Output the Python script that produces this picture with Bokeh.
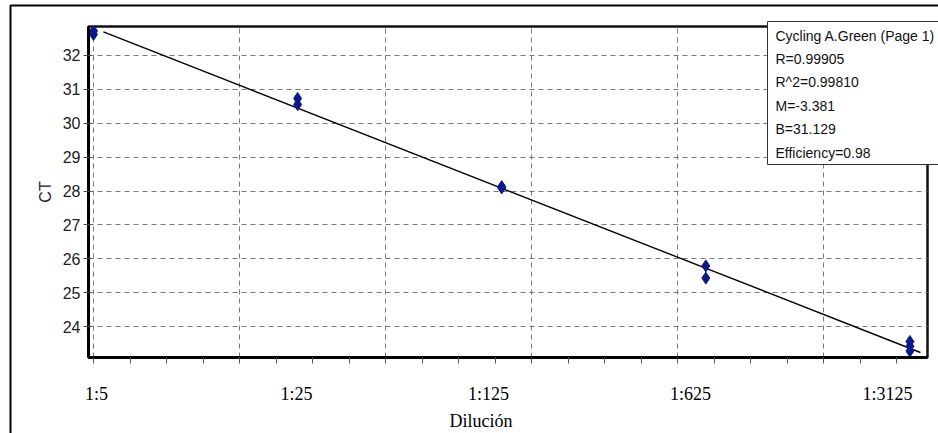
from bokeh.plotting import figure
from bokeh.models import FixedTicker, Range1d, ColumnDataSource
from bokeh.core.properties import value
from bokeh.embed import file_html
from bokeh.resources import INLINE

# ---------------- data ----------------
dilution_labels = ["1:5", "1:25", "1:125", "1:625", "1:3125"]
# position of each dilution on the log10 axis (5-fold steps)
dilution_x = [0.0, 0.699, 1.398, 2.097, 2.796]
# CT replicates
ct_1_5 = [32.72, 32.62]
ct_1_25 = [30.73, 30.55]
ct_1_125 = [28.13, 28.09]
ct_1_625 = [25.79, 25.43]
ct_1_3125 = [23.56, 23.42, 23.28]
ct_groups = [ct_1_5, ct_1_25, ct_1_125, ct_1_625, ct_1_3125]

fit_slope = -3.381          # M
fit_ct_at_first = 32.81     # standard-curve CT at the 1:5 position
fit_x_span = [0.034, 2.832]

legend_lines = ["Cycling A.Green (Page 1)", "R=0.99905", "R^2=0.99810",
                "M=-3.381", "B=31.129", "Efficiency=0.98"]

y_ticks = [24, 25, 26, 27, 28, 29, 30, 31, 32]
x_grid = [0.0, 0.5, 1.0, 1.5, 2.0, 2.5]

# ---------------- layout helpers ----------------
W, H = 938, 433
FL, FR, FT, FB = 88, 927, 26, 358      # frame edges in px
X0PX, XSCALE = 93, 292.0               # px of x=0, px per axis unit
Y24PX, YSCALE = 327, 34.0              # px of CT=24, px per CT unit


def xd(px):
    return (px - X0PX) / XSCALE


def yd(py):
    return 24 + (Y24PX - py) / YSCALE


p = figure(width=W, height=H, output_backend="svg", toolbar_location=None,
           x_range=Range1d(xd(FL), xd(FR)), y_range=Range1d(yd(FB), yd(FT)),
           min_border_left=FL, min_border_right=W - FR,
           min_border_top=FT, min_border_bottom=H - FB)
p.background_fill_color = "white"
p.border_fill_color = "white"
p.outline_line_color = "#111111"
p.outline_line_width = 2.5

# points
xs, ys = [], []
for xv, grp in zip(dilution_x, ct_groups):
    for c in grp:
        xs.append(xv)
        ys.append(c)
src = ColumnDataSource(dict(x=xs, y=ys))

# fit line
fit_y = [fit_ct_at_first + fit_slope * xv for xv in fit_x_span]
p.line(fit_x_span, fit_y, line_color="black", line_width=1.4)
p.scatter("x", "y", source=src, marker="diamond", size=12,
          fill_color="#0a1a8a", line_color="#0a1a8a")

# x axis: labels sit under the dilution points, tick marks every 1/8 unit
label_x = [round(xd(v), 4) for v in (96, 296, 488, 690, 887)]
xa = p.xaxis[0]
xa.ticker = FixedTicker(ticks=label_x, minor_ticks=[i * 0.125 for i in range(0, 23)])
xa.major_label_overrides = {lx: t for lx, t in zip(label_x, dilution_labels)}
xa.major_label_text_font = "Liberation Serif"
xa.major_label_text_font_size = "18px"
xa.major_label_text_color = "black"
xa.major_label_standoff = 20
xa.major_tick_out = 0
xa.major_tick_in = 0
xa.major_tick_line_color = None
xa.minor_tick_out = 6
xa.minor_tick_in = 0
xa.minor_tick_line_color = "#555555"
xa.axis_line_width = 3
xa.axis_line_color = "black"
# trailing no-break spaces shift the centred title left, as in the picture
xa.axis_label = "Dilución" + "\u00a0" * 12
xa.axis_label_text_font = "Liberation Serif"
xa.axis_label_text_font_style = "normal"
xa.axis_label_text_font_size = "18px"
xa.axis_label_text_color = "black"
xa.axis_label_standoff = 4

ya = p.yaxis[0]
ya.ticker = FixedTicker(ticks=y_ticks)
ya.axis_label = "CT"
ya.axis_label_text_font = "Liberation Sans"
ya.axis_label_text_font_style = "normal"
ya.axis_label_text_font_size = "16px"
ya.axis_label_text_color = "#222222"
ya.axis_label_standoff = 6
ya.major_label_text_font = "Liberation Sans"
ya.major_label_text_font_size = "16px"
ya.major_label_text_color = "#222222"
ya.major_label_standoff = 3
ya.axis_line_width = 3
ya.axis_line_color = "black"
ya.major_tick_out = 5
ya.major_tick_in = 3
ya.major_tick_line_color = "#444444"
ya.minor_tick_line_color = None

# grids
p.xgrid.ticker = FixedTicker(ticks=x_grid)
p.ygrid.ticker = FixedTicker(ticks=y_ticks)
for g in (p.xgrid[0], p.ygrid[0]):
    g.grid_line_color = "#7a7a7a"
    g.grid_line_dash = "5 4"
    g.grid_line_width = 1

# ---------------- overlay: picture border and statistics box ----------------
ov = figure(width=W, height=H, output_backend="svg", toolbar_location=None,
            x_range=Range1d(0, W), y_range=Range1d(H, 0),
            x_axis_type=None, y_axis_type=None,
            min_border=0, min_border_left=0, min_border_right=0,
            min_border_top=0, min_border_bottom=0)
ov.background_fill_color = None
ov.border_fill_color = None
ov.outline_line_color = None
ov.grid.visible = False
ov.styles = {"position": "absolute", "top": "0px", "left": "0px"}

# border of the whole picture (left and top edges visible)
ov.line([10, 10, 2000], [2000, 5, 5], line_color="black", line_width=2)

# statistics box
ov.quad(left=[767], right=[1100], top=[21], bottom=[164],
        fill_color="white", line_color="#333333", line_width=1)
ov.text(x=[775] * len(legend_lines), y=[35 + i * 23.4 for i in range(len(legend_lines))],
        text=legend_lines, text_align="left", text_baseline="middle",
        text_font=value("Liberation Sans"), text_font_size="14px",
        text_color="#111111")

open("out.html", "w").write(file_html([p, ov], INLINE))
